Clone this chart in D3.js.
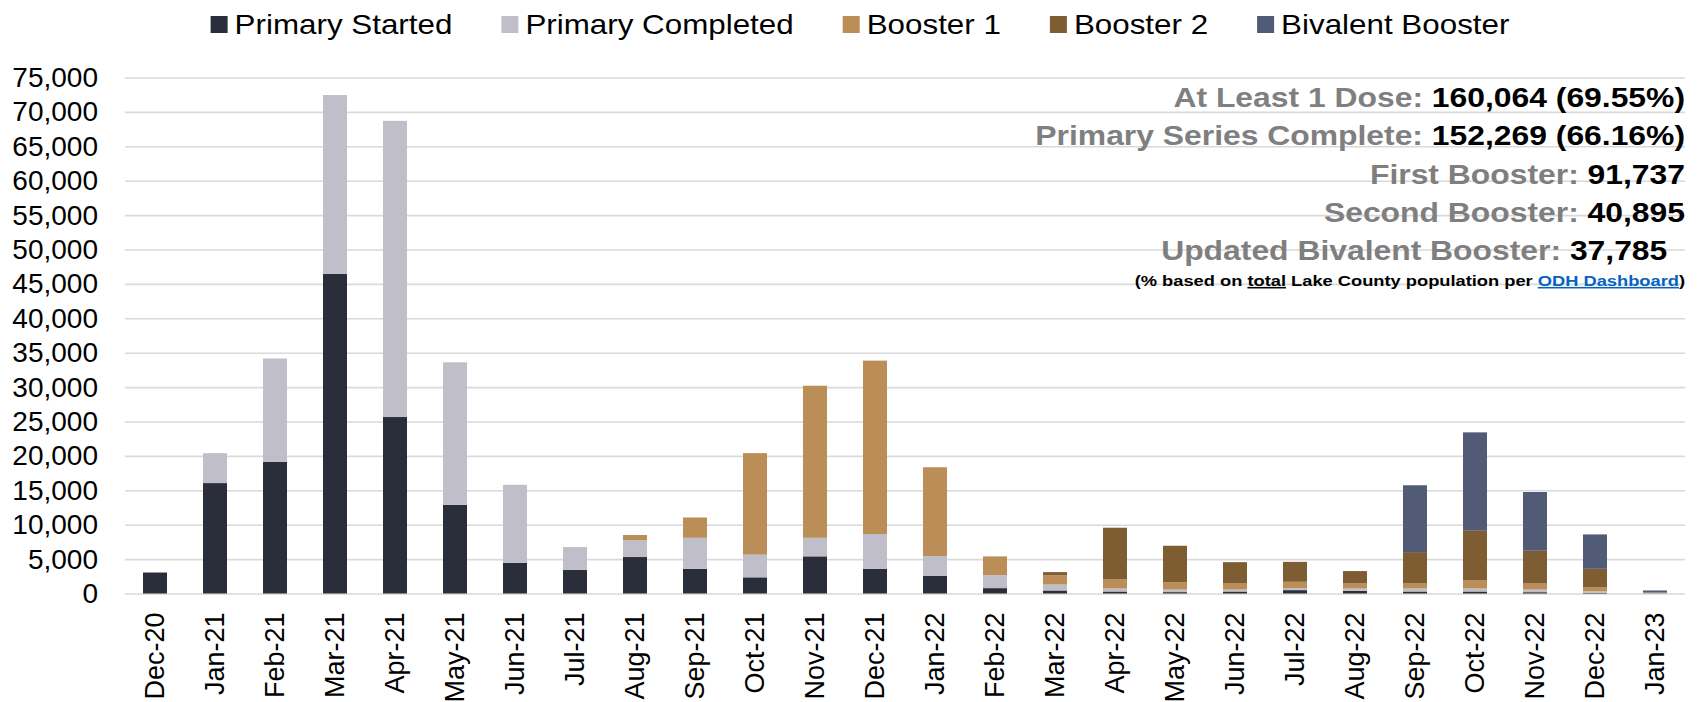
<!DOCTYPE html>
<html>
<head>
<meta charset="utf-8">
<script src="https://cdn.jsdelivr.net/npm/d3@7"></script>
<style>
  html, body { margin: 0; padding: 0; background: #fff; }
  svg { display: block; font-family: "Liberation Sans", Arial, sans-serif; }
</style>
</head>
<body>
<div id="chart"></div>
<script>
// monthly doses, stacked by type
var months = ["Dec-20", "Jan-21", "Feb-21", "Mar-21", "Apr-21", "May-21", "Jun-21", "Jul-21",
              "Aug-21", "Sep-21", "Oct-21", "Nov-21", "Dec-21", "Jan-22", "Feb-22", "Mar-22",
              "Apr-22", "May-22", "Jun-22", "Jul-22", "Aug-22", "Sep-22", "Oct-22", "Nov-22",
              "Dec-22", "Jan-23"];

var primaryStarted   = [3050, 16050, 19150, 46450, 25650, 12900, 4450, 3450, 5300, 3600, 2350, 5400, 3600,
                        2550, 780, 440, 290, 200, 290, 490, 390, 290, 290, 190, 100, 30];
var primaryCompleted = [0, 4350, 15000, 26000, 43050, 20700, 11350, 3300, 2450, 4500, 3300, 2700, 5050,
                        2900, 1890, 870, 440, 380, 290, 290, 340, 440, 440, 390, 240, 40];
var booster1         = [0, 0, 0, 0, 0, 0, 0, 0, 750, 2950, 14750, 22100, 25200,
                        12900, 2720, 1360, 1310, 1070, 870, 920, 730, 730, 1160, 870, 580, 30];
var booster2         = [0, 0, 0, 0, 0, 0, 0, 0, 0, 0, 0, 0, 0,
                        0, 0, 440, 7520, 5290, 3110, 2900, 1800, 4560, 7230, 4760, 2670, 60];
var bivalent         = [0, 0, 0, 0, 0, 0, 0, 0, 0, 0, 0, 0, 0,
                        0, 0, 0, 0, 0, 0, 0, 0, 9710, 14300, 8540, 5000, 280];

var seriesNames = ["Primary Started", "Primary Completed", "Booster 1", "Booster 2", "Bivalent Booster"];
var seriesColors = ["#2a2e3a", "#c0bec9", "#ba8e56", "#7f5d32", "#525b76"];

var yTicks = [0, 5000, 10000, 15000, 20000, 25000, 30000, 35000, 40000, 45000, 50000, 55000, 60000, 65000, 70000, 75000];

var summaryLabels = ["At Least 1 Dose: ", "Primary Series Complete: ", "First Booster: ", "Second Booster: ", "Updated Bivalent Booster: "];
var summaryValues = ["160,064 (69.55%)", "152,269 (66.16%)", "91,737", "40,895", "37,785\u00a0\u00a0"];

var width = 1703, height = 702;
var plotLeft = 125, plotRight = 1685, plotTop = 77.5, plotBottom = 593.5;
var stretch = 1.18;   // the summary text is drawn wider than normal
var legendStretch = 1.12;

var svg = d3.select("#chart").append("svg")
    .attr("width", width)
    .attr("height", height);

var x = d3.scaleBand()
    .domain(months)
    .range([plotLeft, plotRight])
    .paddingInner(0.6)
    .paddingOuter(0.3);

var y = d3.scaleLinear()
    .domain([0, 75000])
    .range([plotBottom, plotTop]);

// gridlines + y labels
var yAxis = d3.axisLeft(y)
    .tickValues(yTicks)
    .tickFormat(d3.format(","))
    .tickSize(-(plotRight - plotLeft))
    .tickPadding(27);

var gy = svg.append("g")
    .attr("transform", "translate(" + plotLeft + ",0)")
    .call(yAxis);
gy.select(".domain").remove();
gy.selectAll(".tick line").attr("stroke", "#d9d9d9").attr("stroke-width", 1.6);
gy.selectAll(".tick text")
    .attr("fill", "#000")
    .style("font-size", "28px");

// stacked bars
var rows = months.map(function (m, i) {
    return {
        month: m,
        "Primary Started": primaryStarted[i],
        "Primary Completed": primaryCompleted[i],
        "Booster 1": booster1[i],
        "Booster 2": booster2[i],
        "Bivalent Booster": bivalent[i]
    };
});
var stacked = d3.stack().keys(seriesNames)(rows);

svg.append("g").selectAll("g")
    .data(stacked)
    .enter().append("g")
    .attr("fill", function (d, i) { return seriesColors[i]; })
    .selectAll("rect")
    .data(function (d) { return d; })
    .enter().append("rect")
    .attr("x", function (d) { return x(d.data.month); })
    .attr("width", x.bandwidth())
    .attr("y", function (d) { return y(d[1]); })
    .attr("height", function (d) { return y(d[0]) - y(d[1]); });

// x axis labels, rotated
var xAxis = d3.axisBottom(x).tickSize(0).tickPadding(0);
var gx = svg.append("g")
    .attr("transform", "translate(0," + plotBottom + ")")
    .call(xAxis);
gx.select(".domain").remove();
gx.selectAll(".tick text")
    .attr("fill", "#000")
    .style("font-size", "27px")
    .attr("text-anchor", "end")
    .attr("transform", "rotate(-90)")
    .attr("x", -19)
    .attr("y", 0)
    .attr("dy", "0.35em");

// legend
var legend = svg.append("g");
var lx = 0, gap = 49;
seriesNames.forEach(function (name, i) {
    var item = legend.append("g").attr("transform", "translate(" + lx + ",0)");
    item.append("rect")
        .attr("x", 0).attr("y", 16)
        .attr("width", 17).attr("height", 17)
        .attr("fill", seriesColors[i]);
    var t = item.append("g")
        .attr("transform", "translate(24,34) scale(" + legendStretch + ",1)")
        .append("text")
        .style("font-size", "28px")
        .attr("fill", "#000")
        .text(name);
    var w = t.node().getComputedTextLength() * legendStretch;
    lx += 24 + w + gap;
});
var legendWidth = lx - gap;
legend.attr("transform", "translate(" + (860 - legendWidth / 2) + ",0)");

// summary block, right aligned
summaryLabels.forEach(function (lab, i) {
    var t = svg.append("g")
        .attr("transform", "translate(" + plotRight + "," + (107 + i * 38.3) + ") scale(" + stretch + ",1)")
        .append("text")
        .attr("text-anchor", "end")
        .style("font-size", "27px")
        .style("font-weight", "bold");
    t.append("tspan").attr("fill", "#7f7f7f").text(lab);
    t.append("tspan").attr("fill", "#000").text(summaryValues[i]);
});

var note = svg.append("g")
    .attr("transform", "translate(" + plotRight + ",286) scale(" + stretch + ",1)")
    .append("text")
    .attr("text-anchor", "end")
    .style("font-size", "15.5px")
    .style("font-weight", "bold")
    .attr("fill", "#000");
note.append("tspan").text("(% based on ");
note.append("tspan").style("text-decoration", "underline").text("total");
note.append("tspan").text(" Lake County population per ");
note.append("tspan").attr("fill", "#0563c1").style("text-decoration", "underline").text("ODH Dashboard");
note.append("tspan").text(")");
</script>
</body>
</html>
